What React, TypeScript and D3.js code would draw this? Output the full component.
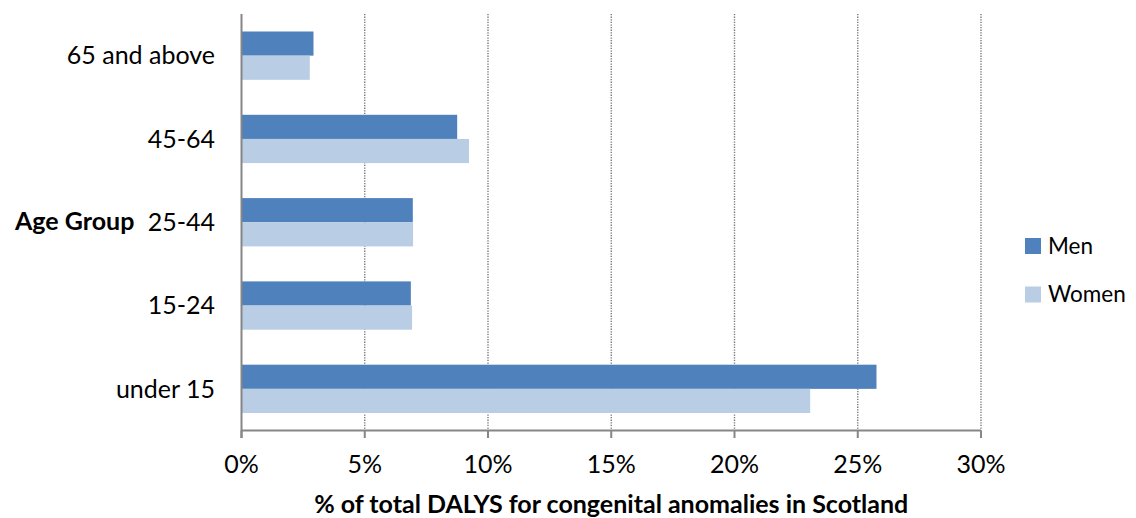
import React from "react";
import * as d3 from "d3";

const categories = ["65 and above", "45-64", "25-44", "15-24", "under 15"];
const menValues = [2.92, 8.75, 6.95, 6.87, 25.76];
const womenValues = [2.77, 9.23, 6.96, 6.92, 23.07];
const seriesNames = ["Men", "Women"];
const seriesColors = ["#4F81BD", "#B9CDE5"];
const xTicks = [0, 5, 10, 15, 20, 25, 30];

const W = 1136;
const H = 518;
const left = 241.5;
const right = 981;
const top = 14;
const bottom = 430.5;
const FONT = "Lato, 'Open Sans', sans-serif";

export default function App() {
  const x = d3.scaleLinear().domain([0, 30]).range([left, right]);
  const y = d3
    .scaleBand<string>()
    .domain(categories)
    .range([top, bottom])
    .paddingInner(0.42)
    .paddingOuter(0.21);
  const inner = d3
    .scaleBand<string>()
    .domain(seriesNames)
    .range([0, y.bandwidth()])
    .padding(0);
  const seriesData = [menValues, womenValues];

  return (
    <svg
      width={W}
      height={H}
      style={{ position: "absolute", left: 0, top: 0, background: "#fff" }}
      fontFamily={FONT}
    >
      {/* gridlines */}
      {xTicks.slice(1).map((t) => (
        <line
          key={"g" + t}
          x1={x(t)}
          x2={x(t)}
          y1={top}
          y2={bottom}
          stroke="#7a7a7a"
          strokeWidth={1.4}
          strokeDasharray="1.3,1.3"
        />
      ))}
      {/* bars */}
      {categories.map((c, i) =>
        seriesNames.map((s, j) => (
          <rect
            key={c + s}
            x={x(0)}
            y={(y(c) as number) + (inner(s) as number)}
            width={x(seriesData[j][i]) - x(0)}
            height={inner.bandwidth()}
            fill={seriesColors[j]}
          />
        ))
      )}
      {/* axes */}
      <line x1={left} x2={left} y1={top} y2={bottom + 7.5} stroke="#868686" strokeWidth={2} />
      <line x1={left} x2={right} y1={bottom} y2={bottom} stroke="#868686" strokeWidth={2} />
      {xTicks.map((t) => (
        <line key={"t" + t} x1={x(t)} x2={x(t)} y1={bottom} y2={bottom + 7.5} stroke="#868686" strokeWidth={2} />
      ))}
      {xTicks.map((t) => (
        <text key={"l" + t} x={x(t)} y={473} textAnchor="middle" fontSize={25} fill="#000">
          {t + "%"}
        </text>
      ))}
      {categories.map((c) => (
        <text
          key={"c" + c}
          x={215}
          y={(y(c) as number) + y.bandwidth() / 2 + 8.7}
          textAnchor="end"
          fontSize={25}
          fill="#000"
        >
          {c}
        </text>
      ))}
      <text x={15} y={230} fontSize={25} fontWeight="bold" fill="#000">
        Age Group
      </text>
      <text x={(left + right) / 2} y={513} textAnchor="middle" fontSize={25} fontWeight="bold" fill="#000">
        % of total DALYS for congenital anomalies in Scotland
      </text>
      {/* legend */}
      {seriesNames.map((s, j) => (
        <g key={"lg" + s} transform={`translate(1025,${238 + j * 48.5})`}>
          <rect x={0} y={0} width={16} height={16} fill={seriesColors[j]} />
          <text x={23} y={15.5} fontSize={22.5} fill="#000">
            {s}
          </text>
        </g>
      ))}
    </svg>
  );
}
